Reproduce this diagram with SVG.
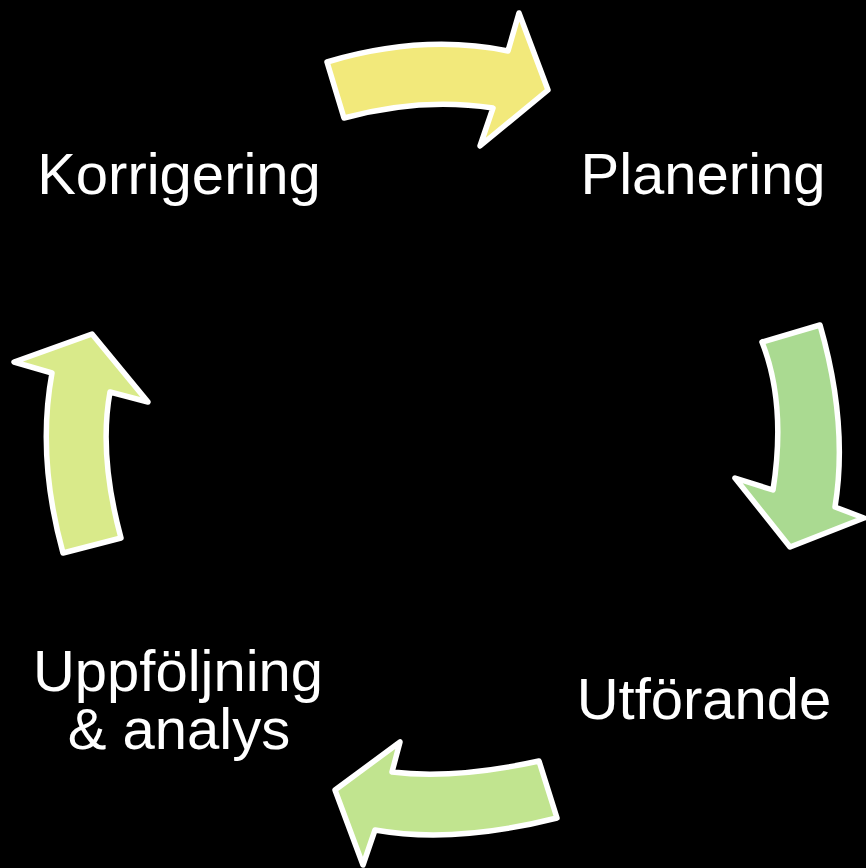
<svg xmlns="http://www.w3.org/2000/svg" width="866" height="868" viewBox="0 0 866 868">
<style>
.arrow{stroke:#fff;stroke-width:5.5;stroke-linejoin:round}
.lbl{font-family:"Liberation Sans",Arial,sans-serif;font-size:58px;fill:#fff;text-anchor:middle}
</style>
<rect width="866" height="868" fill="#000"/>
<g id="connectors">
<path id="arrow-top" class="arrow" fill="#F2E97B" d="M327,62 Q422.5,33.5 508,51 L519,13 L548,90 L480,146 L493,108 Q421.5,97 344,118 Z"/>
<path id="arrow-right" class="arrow" fill="#AADA91" d="M820,325 Q848.5,424 835,507 L864,518 L790,547 L735,478 L773,490 Q786.5,404 762,342 Z"/>
<path id="arrow-bottom" class="arrow" fill="#C1E48F" d="M557,818 Q454,844 375,830 L363,865 L335,790 L400,742 L392,772 Q454.5,779.5 539,761 Z"/>
<path id="arrow-left" class="arrow" fill="#D9EA8A" d="M121,538 Q98.5,455 110,392 L148,402 L92,334 L14,362 L52,373 Q36.5,457 63,553 Z"/>
</g>
<g id="node-korrigering"><text class="lbl" x="179" y="194">Korrigering</text></g>
<g id="node-planering"><text class="lbl" x="703" y="194">Planering</text></g>
<g id="node-utforande"><text class="lbl" x="704" y="719">Utförande</text></g>
<g id="node-uppfoljning"><text class="lbl" x="178" y="691"><tspan x="178" y="691">Uppföljning</tspan><tspan x="179" y="749">&amp; analys</tspan></text></g>
</svg>
